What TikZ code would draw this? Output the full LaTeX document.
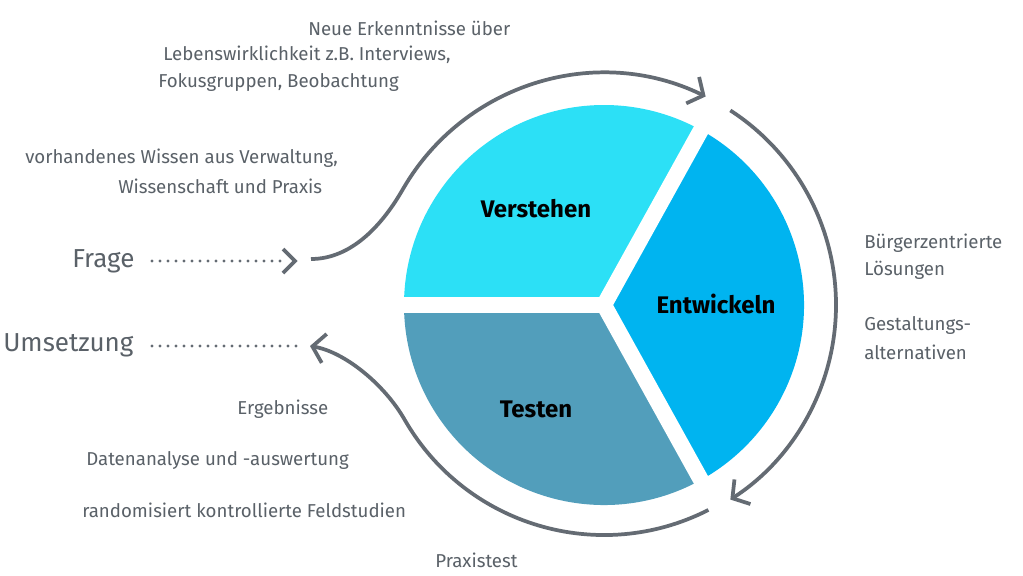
\documentclass[tikz,border=0pt]{standalone}
\usepackage{fontspec}
\setmainfont{Fira Sans}
\usetikzlibrary{arrows.meta,calc}
\definecolor{cV}{HTML}{2CE0F6}
\definecolor{cE}{HTML}{00B4F0}
\definecolor{cT}{HTML}{529EBB}
\definecolor{ag}{HTML}{646B73}
\definecolor{tg}{HTML}{5A6168}
\begin{document}
\begin{tikzpicture}[x=0.75pt,y=-0.75pt,
  txt/.style={text=tg,font=\fontsize{14}{17}\selectfont,inner sep=0pt,anchor=west},
  big/.style={text=tg,font=\fontsize{19.5}{22}\selectfont,inner sep=0pt,anchor=west},
  lab/.style={text=black,font=\fontsize{18}{20}\selectfont\bfseries,inner sep=0pt},
  flow/.style={draw=ag,line width=2.8pt},
  tip/.style={-{Straight Barb[length=9pt,width=22pt,line width=2.8pt]}},
  dots/.style={draw=ag,line width=2.4pt,line cap=round,dash pattern=on 0pt off 6pt}]
\path[use as bounding box,fill=white] (0,0) rectangle (1023,575);
\coordinate (c) at (604,305);
% sectors
\fill[cV] (c) -- ++(180:200) arc[start angle=180,end angle=300,radius=200] -- cycle;
\fill[cE] (c) -- ++(-60:200) arc[start angle=-60,end angle=60,radius=200] -- cycle;
\fill[cT] (c) -- ++(60:200) arc[start angle=60,end angle=180,radius=200] -- cycle;
\foreach \a in {180,-61,61} \draw[white,line width=12pt] (c) -- ++(\a:215);
\node[lab] (v) at (536,209) {Verstehen};
\node[lab] (e) at (716,304) {Entwickeln};
\node[lab] (t) at (536,409) {Testen};
% flow arrows
\coordinate (fs) at (311,259);
\coordinate (us) at (310,346);
\draw[flow,tip] (fs) .. controls (352,259) and (383,224) .. (403,189)
   arc[start angle=-150,end angle=-64,radius=232];
\draw[flow,tip] ($(c)+(-57:232)$) arc[start angle=-57,end angle=57,radius=232];
\draw[flow,tip] ($(c)+(63:230)$) arc[start angle=63,end angle=150,radius=230]
   .. controls (385,385) and (345,352) .. (us);
% left inputs
\node[big] (frage) at (72,261) {Frage};
\node[big] (ums) at (3,345) {Umsetzung};
\coordinate (fd) at (283,261);
\draw[dots] (152,261) -- (fd);
\draw[ag,line width=2.8pt] (283,249) -- (295,261) -- (283,273);
\coordinate (ud) at (300,346);
\draw[dots] (152,346) -- (ud);
% texts
\node[txt] (n1) at (308,28) {Neue Erkenntnisse über};
\node[txt] (n2) at (163,55) {Lebenswirklichkeit z.B. Interviews,};
\node[txt] (n3) at (158,82) {Fokusgruppen, Beobachtung};
\node[txt] (w1) at (25,158) {vorhandenes Wissen aus Verwaltung,};
\node[txt] (w2) at (118,186) {Wissenschaft und Praxis};
\node[txt] (r1) at (864,243) {Bürgerzentrierte};
\node[txt] (r2) at (864,270) {Lösungen};
\node[txt] (r3) at (864,325) {Gestaltungs-};
\node[txt] (r4) at (864,352) {alternativen};
\node[txt] (b1) at (237,409) {Ergebnisse};
\node[txt] (b2) at (86,460) {Datenanalyse und -auswertung};
\node[txt] (b3) at (82,510) {randomisiert kontrollierte Feldstudien};
\node[txt] (b4) at (435,560) {Praxistest};
\end{tikzpicture}
\end{document}
